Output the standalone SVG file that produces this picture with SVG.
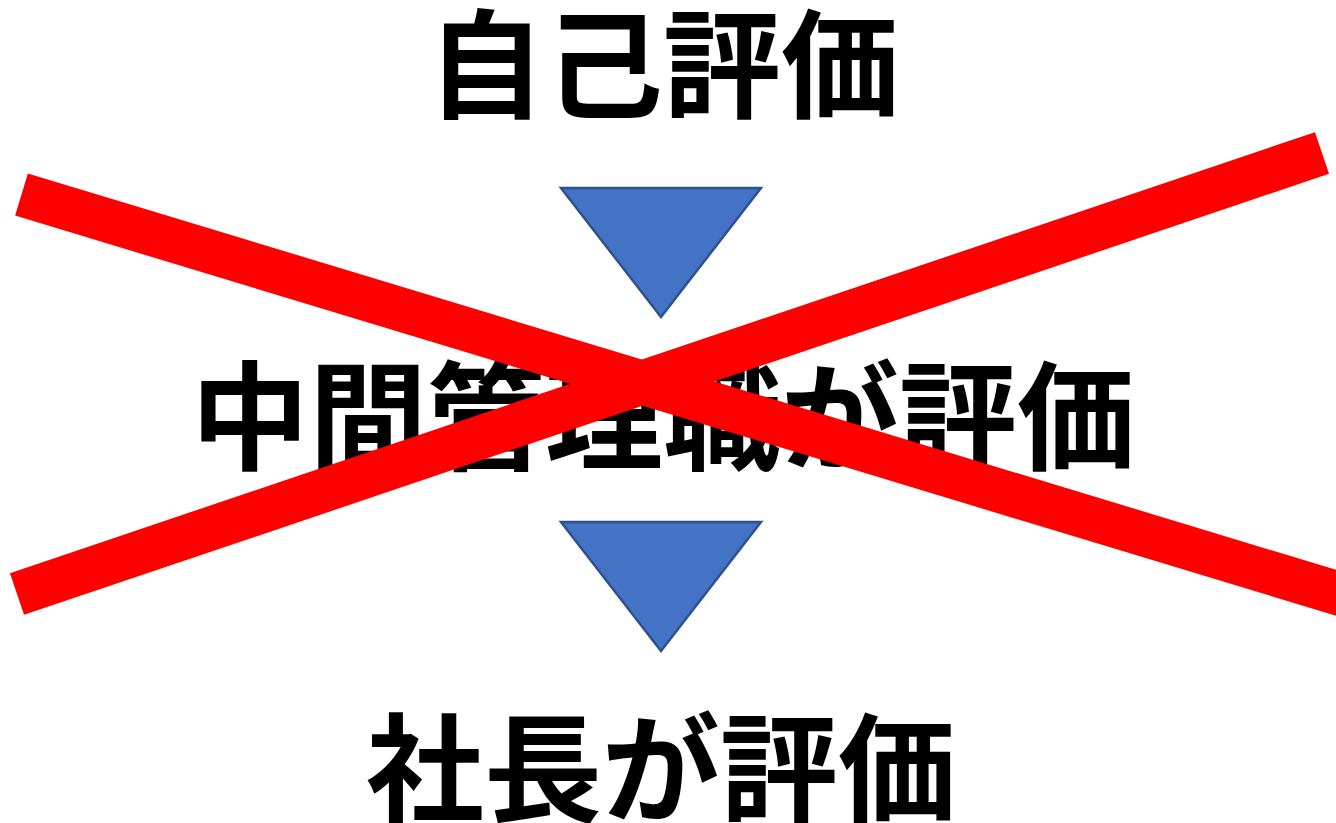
<svg xmlns="http://www.w3.org/2000/svg" width="1336" height="823" viewBox="0 0 1336 823">
<style>
.t{font-family:"Noto Sans CJK JP","Noto Sans CJK SC",sans-serif;font-weight:700;font-size:118px;fill:#000;text-anchor:middle}
.tri{fill:#4472C4;stroke:#2F528F;stroke-width:2.5}
.x{stroke:#FF0000;stroke-width:44;stroke-linecap:butt;fill:none}
</style>
<rect width="1336" height="823" fill="#fff"/>
<g id="node-self"><text class="t" x="663" y="109">自己評価</text></g>
<g id="node-middle"><text class="t" x="663" y="461">中間管理職が評価</text></g>
<g id="node-president"><text class="t" x="661" y="813">社長が評価</text></g>
<g id="connectors">
<polygon class="tri" points="561,188 761,188 661,317"/>
<polygon class="tri" points="561,522 761,522 661,651"/>
</g>
<g id="cross">
<line class="x" x1="21.5" y1="194.5" x2="1350" y2="597"/>
<line class="x" x1="17" y1="594" x2="1322" y2="153"/>
</g>
</svg>
